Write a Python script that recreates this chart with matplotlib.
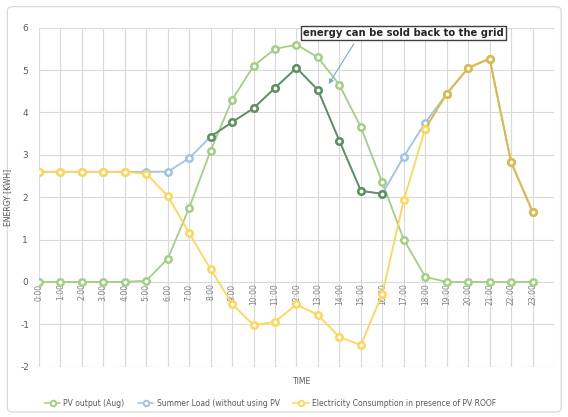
import matplotlib
matplotlib.use("Agg")
import matplotlib.pyplot as plt
from matplotlib.patches import FancyBboxPatch
from matplotlib.lines import Line2D

hours = list(range(24))
hour_labels = [f"{h}:00" for h in hours]

pv_output = [0, 0, 0, 0, 0, 0.03, 0.55, 1.75, 3.1, 4.3, 5.1, 5.5,
             5.6, 5.3, 4.65, 3.65, 2.35, 1.0, 0.12, 0, 0, 0, 0, 0]
summer_load = [2.6, 2.6, 2.6, 2.6, 2.6, 2.6, 2.6, 2.92, 3.43, 3.77, 4.1, 4.58,
               5.05, 4.53, 3.33, 2.15, 2.08, 2.96, 3.76, 4.44, 5.05, 5.27, 2.83, 1.66]
consumption = [2.6, 2.6, 2.6, 2.6, 2.6, 2.55, 2.03, 1.15, 0.3, -0.52, -1.02, -0.94,
               -0.53, -0.78, -1.3, -1.49, -0.28, 1.93, 3.62, 4.44, 5.05, 5.27, 2.83, 1.66]

GREEN = "#a3cf84"
BLUE = "#9fc3e7"
YELLOW = "#ffd659"
DARK_GREEN = "#5f8f5c"
GOLD = "#d9b94b"

fig = plt.figure(figsize=(5.68, 4.17), dpi=100)
fig.patch.set_facecolor("white")

# chart frame
frame = FancyBboxPatch((0.013, 0.012), 0.975, 0.972, boxstyle="round,pad=0,rounding_size=0.01",
                       transform=fig.transFigure, facecolor="white", edgecolor="#d9d9d9",
                       linewidth=0.9, zorder=-10)
fig.patches.append(frame)

ax = fig.add_axes([0.0687, 0.1206, 0.9066, 0.813])
ax.set_facecolor("none")

mk = dict(marker="o", markersize=4.6, markeredgewidth=1.8, markerfacecolor="white",
          linewidth=1.3)

ax.plot(hours, pv_output, color=GREEN, markeredgecolor=GREEN, zorder=3, **mk)
ax.plot(hours, summer_load, color=BLUE, markeredgecolor=BLUE, zorder=4, **mk)
# midday part of the load curve, while the roof covers it
mid = slice(8, 17)
ax.plot(hours[mid], summer_load[mid], color=DARK_GREEN, markeredgecolor=DARK_GREEN,
        zorder=5, **mk)
ax.plot(hours, consumption, color=YELLOW, markeredgecolor=YELLOW, zorder=6, **mk)
# evening hours where consumption equals the load
eve = slice(18, 24)
ax.plot(hours[eve], consumption[eve], color=GOLD, markeredgecolor=GOLD, zorder=7, **mk)
ax.plot(hours[18:19], consumption[18:19], color=YELLOW, markeredgecolor=YELLOW,
        zorder=8, linestyle="none", marker="o", markersize=4.6, markeredgewidth=1.8,
        markerfacecolor="white")

ax.set_xlim(0, 24)
ax.set_ylim(-2, 6)
ax.set_xticks(range(25))
ax.set_xticklabels(hour_labels + [""], rotation=90, fontsize=5.5, color="#7f7f7f")
ax.set_yticks(range(-2, 7))
ax.set_yticklabels([str(v) for v in range(-2, 7)], fontsize=6.5, color="#595959")
ax.tick_params(axis="both", length=0)
ax.tick_params(axis="y", pad=10)
ax.tick_params(axis="x", pad=-60)
for lab in ax.get_xticklabels():
    lab.set_verticalalignment("top")
for lab in ax.get_yticklabels():
    lab.set_horizontalalignment("center")
ax.grid(True, color="#d9d9d9", linewidth=0.8)
ax.set_axisbelow(True)
for s in ax.spines.values():
    s.set_visible(False)

ax.set_ylabel("ENERGY [KWH]", fontsize=5.5, color="#595959", labelpad=6)
fig.text(0.531, 0.086, "TIME", fontsize=5.5, color="#595959", ha="center", va="center")

ax.annotate("energy can be sold back to the grid", xy=(13.5, 4.67), xytext=(17.0, 5.88),
            fontsize=7.2, fontweight="bold", color="#262626", ha="center", va="center",
            bbox=dict(boxstyle="square,pad=0.22", facecolor="white", edgecolor="#404040",
                      linewidth=1.0),
            arrowprops=dict(arrowstyle="-|>", color="#7fa6d9", linewidth=0.8,
                            shrinkA=3, shrinkB=0, mutation_scale=7,
                            relpos=(0.27, 0.0)),
            zorder=10)

handles = [
    Line2D([], [], color=GREEN, marker="o", markerfacecolor="white", markeredgecolor=GREEN,
           markeredgewidth=1.4, markersize=4, linewidth=1.1),
    Line2D([], [], color=BLUE, marker="o", markerfacecolor="white", markeredgecolor=BLUE,
           markeredgewidth=1.4, markersize=4, linewidth=1.1),
    Line2D([], [], color=YELLOW, marker="o", markerfacecolor="white", markeredgecolor=YELLOW,
           markeredgewidth=1.4, markersize=4, linewidth=1.1),
]
fig.legend(handles, ["PV output (Aug)", "Summer Load (without using PV",
                     "Electricity Consumption in presence of PV ROOF"],
           loc="center", bbox_to_anchor=(0.476, 0.033), ncol=3, frameon=False,
           fontsize=5.5, handlelength=2.0, columnspacing=1.8, handletextpad=0.4,
           labelcolor="#595959")

fig.savefig("out.png", dpi=100, facecolor="white")
